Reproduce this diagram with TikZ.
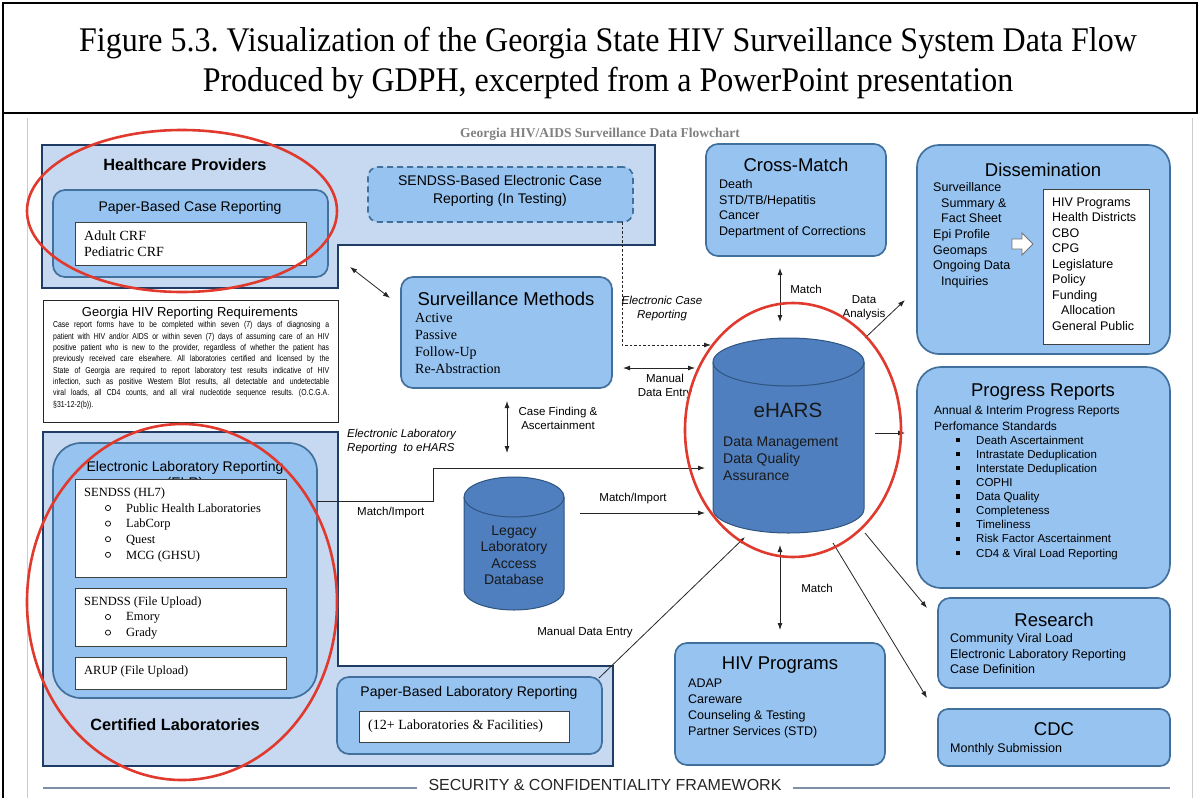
\documentclass[tikz,border=0pt]{standalone}
\usepackage{fontspec}
\setmainfont{Liberation Serif}
\setsansfont{Liberation Sans}
\newfontfamily\narrowsans[FakeStretch=0.8]{Liberation Sans}
\usetikzlibrary{arrows.meta}
\frenchspacing

\newcommand\fs[2]{\fontsize{#1}{#2}\selectfont}
\newcommand\jline[1]{\hbox to 276pt{#1}}

\definecolor{frameblue}{HTML}{C6D9F1}
\definecolor{navy}{HTML}{1F3D64}
\definecolor{boxblue}{HTML}{96C3F0}
\definecolor{boxedge}{HTML}{41709C}
\definecolor{cylblue}{HTML}{4F7FBF}
\definecolor{cyledge}{HTML}{2F5480}
\definecolor{markred}{HTML}{E03A2E}
\definecolor{rulegray}{HTML}{7F8FA6}

\begin{document}
\begin{tikzpicture}[x=1pt,y=-1pt,
  lframe/.style={fill=frameblue, draw=navy, line width=2.6pt, line join=miter},
  cbox/.style={fill=boxblue, draw=boxedge, line width=1.7pt, rounded corners=12pt},
  wbox/.style={fill=white, draw=black!75, line width=0.8pt},
  txt/.style={inner sep=0pt, align=left, anchor=north west, text=black},
  ttl/.style={inner sep=0pt, anchor=center, font=\sffamily\fs{18.5}{22}},
  lbl/.style={inner sep=0pt, align=center, font=\sffamily\fs{11.5}{14}},
  ilbl/.style={inner sep=0pt, align=center, font=\sffamily\itshape\fs{11.5}{14}},
  conn/.style={draw=black!85, line width=0.8pt, -{Latex[length=7pt,width=5pt]}},
  dconn/.style={draw=black!85, line width=0.8pt, {Latex[length=7pt,width=5pt]}-{Latex[length=7pt,width=5pt]}},
  redring/.style={draw=markred, line width=2.6pt},
  cylfill/.style={fill=cylblue, draw=cyledge, line width=1pt},
]
\useasboundingbox (0,0) rectangle (1201,798);

% caption frame
\draw[line width=2pt] (3,3) rectangle (1197,113);
\draw[line width=2pt] (3,113) -- (3,798);
\draw[black!20, line width=0.8pt] (27,118) -- (27,798);
\draw[black!20, line width=0.8pt] (1192,118) -- (1192,798);
\node[align=center, inner sep=0pt, font=\rmfamily\fs{32}{37}, yscale=1.08] (caption) at (608,63)
  {Figure 5.3. Visualization of the Georgia State HIV Surveillance System Data Flow\\
   Produced by GDPH, excerpted from a PowerPoint presentation};

\node[inner sep=0pt, font=\rmfamily\bfseries\fs{13.5}{15}, text=black!50] (slidetitle) at (600,134)
  {Georgia HIV/AIDS Surveillance Data Flowchart};

% ---------- Healthcare providers ----------
\draw[lframe] (42,145) -- (655,145) -- (655,245) -- (338,245) -- (338,288) -- (42,288) -- cycle;
\node[inner sep=0pt, font=\sffamily\bfseries\fs{16.3}{19}] (hptitle) at (185,165) {Healthcare Providers};

\node[cbox, minimum width=275pt, minimum height=87pt] (pbcr) at (190.5,233.5) {};
\node[inner sep=0pt, font=\sffamily\fs{14}{17}] (pbcrtitle) at (190,208) {Paper-Based Case Reporting};
\node[wbox, minimum width=231pt, minimum height=43pt] (crf) at (190.5,243.5) {};
\node[txt, font=\rmfamily\fs{14}{16}] (crftext) at (84,231) {Adult CRF\\Pediatric CRF};

\node[cbox, dashed, dash pattern=on 6pt off 4pt, rounded corners=10pt, minimum width=265pt, minimum height=55pt] (sendss) at (500.5,194.5) {};
\node[inner sep=0pt, align=center, font=\sffamily\fs{14}{17.5}] (sendsstext) at (500,191)
  {SENDSS-Based Electronic Case\\Reporting (In Testing)};

% ---------- Reporting requirements ----------
\node[wbox, draw=black!85, minimum width=295pt, minimum height=122pt] (req) at (190.5,361) {};
\node[inner sep=0pt, font=\sffamily\fs{13}{15}] (reqtitle) at (190,313) {Georgia HIV Reporting Requirements};
\node[txt, font=\narrowsans\fs{8.6}{11.3}] (reqbody) at (53,321.5)
  {\jline{Case report forms have to be completed within seven (7) days of diagnosing a}\\
   \jline{patient with HIV and/or AIDS or within seven (7) days of assuming care of an HIV}\\
   \jline{positive patient who is new to the provider, regardless of whether the patient has}\\
   \jline{previously received care elsewhere. All laboratories certified and licensed by the}\\
   \jline{State of Georgia are required to report laboratory test results indicative of HIV}\\
   \jline{infection, such as positive Western Blot results, all detectable and undetectable}\\
   \jline{viral loads, all CD4 counts, and all viral nucleotide sequence results. (O.C.G.A.}\\
   §31-12-2(b)).};

% ---------- Surveillance methods ----------
\node[cbox, minimum width=211pt, minimum height=111pt] (sm) at (506.5,332.5) {};
\node[ttl] (smtitle) at (506,299) {Surveillance Methods};
\node[txt, font=\rmfamily\fs{14}{17}] (smtext) at (415,313) {Active\\Passive\\Follow-Up\\Re-Abstraction};

% ---------- Cross-match ----------
\node[cbox, minimum width=180pt, minimum height=112pt] (cm) at (796,200) {};
\node[ttl] (cmtitle) at (796,165) {Cross-Match};
\node[txt, font=\sffamily\fs{12.5}{15.6}] (cmtext) at (719,179.5)
  {Death\\STD/TB/Hepatitis\\Cancer\\Department of Corrections};

% ---------- Dissemination ----------
\node[cbox, rounded corners=22pt, minimum width=253pt, minimum height=209pt] (dis) at (1043.5,249.5) {};
\node[ttl] (distitle) at (1043,170) {Dissemination};
\node[txt, font=\sffamily\fs{12.5}{15.6}] (distext) at (933,182.5)
  {Surveillance\\\hspace*{8pt}Summary \&\\\hspace*{8pt}Fact Sheet\\Epi Profile\\Geomaps\\Ongoing Data\\\hspace*{8pt}Inquiries};
\node[wbox, minimum width=106pt, minimum height=155pt] (aud) at (1096,266.5) {};
\node[txt, font=\sffamily\fs{12.5}{15.5}] (audtext) at (1052,197.5)
  {HIV Programs\\Health Districts\\CBO\\CPG\\Legislature\\Policy\\Funding\\\hspace*{9pt}Allocation\\General Public};
\draw[fill=white, draw=black!55, line width=0.8pt]
  (1012,239) -- (1022,239) -- (1022,233) -- (1033,244) -- (1022,255) -- (1022,249) -- (1012,249) -- cycle;

% ---------- Progress reports ----------
\node[cbox, rounded corners=24pt, minimum width=253pt, minimum height=221pt] (pr) at (1043.5,477.5) {};
\node[ttl] (prtitle) at (1043,392) {Progress Reports};
\node[txt, font=\sffamily\fs{12}{16}] (prtext) at (934,405.5)
  {Annual \& Interim Progress Reports\\Perfomance Standards};
\node[txt, font=\sffamily\fs{11.5}{14.1}] (prlist) at (976,435.7)
  {Death Ascertainment\\Intrastate Deduplication\\Interstate Deduplication\\COPHI\\Data Quality\\Completeness\\Timeliness\\Risk Factor Ascertainment\\CD4 \& Viral Load Reporting};
\foreach \i in {0,...,8}
  \fill ({958-2.2},{440+14.1*\i-2.2}) rectangle ++(4.4,4.4);

% ---------- Research and CDC ----------
\node[cbox, minimum width=232pt, minimum height=90pt] (res) at (1054,643) {};
\node[ttl] (restitle) at (1054,620) {Research};
\node[txt, font=\sffamily\fs{12.5}{15.6}] (restext) at (950,633.5)
  {Community Viral Load\\Electronic Laboratory Reporting\\Case Definition};

\node[cbox, rounded corners=10pt, minimum width=232pt, minimum height=57pt] (cdc) at (1054,737.5) {};
\node[ttl] (cdctitle) at (1054,729) {CDC};
\node[txt, font=\sffamily\fs{12.5}{15}] (cdctext) at (950,743.5) {Monthly Submission};

% ---------- HIV programs ----------
\node[cbox, minimum width=210pt, minimum height=122pt] (hivp) at (780,704) {};
\node[ttl] (hivptitle) at (780,665) {HIV Programs};
\node[txt, font=\sffamily\fs{12.5}{16}] (hivptext) at (688,678.5)
  {ADAP\\Careware\\Counseling \& Testing\\Partner Services (STD)};

% ---------- Certified laboratories ----------
\draw[lframe] (43,432) -- (338,432) -- (338,666) -- (613,666) -- (613,766) -- (43,766) -- cycle;
\node[cbox, rounded corners=28pt, minimum width=264pt, minimum height=255pt] (elr) at (185,570.5) {};
\node[inner sep=0pt, align=center, anchor=north, font=\sffamily\fs{14}{16}] (elrtitle) at (185,461)
  {Electronic Laboratory Reporting\\(ELR)};
\node[wbox, minimum width=211pt, minimum height=98pt] (hl7) at (180.5,528) {};
\node[wbox, minimum width=211pt, minimum height=58pt] (upload) at (180.5,617) {};
\node[wbox, minimum width=211pt, minimum height=32pt] (arup) at (180.5,673) {};
\node[txt, font=\rmfamily\fs{12.5}{15.6}] (hl7head) at (84,487.4) {SENDSS (HL7)};
\node[txt, font=\rmfamily\fs{12.5}{15.6}] (hl7list) at (126,503.4)
  {Public Health Laboratories\\LabCorp\\Quest\\MCG (GHSU)};
\foreach \i in {0,...,3}
  \draw[line width=0.7pt] (108,{508+15.6*\i}) circle[radius=2.6pt];
\node[txt, font=\rmfamily\fs{12.5}{15.6}] (uploadhead) at (84,596.4) {SENDSS (File Upload)};
\node[txt, font=\rmfamily\fs{12.5}{15.6}] (uploadlist) at (126,612.4) {Emory\\Grady};
\foreach \i in {0,1}
  \draw[line width=0.7pt] (108,{617+15.6*\i}) circle[radius=2.6pt];
\node[txt, font=\rmfamily\fs{12.5}{15.6}] (aruptext) at (84,665.4) {ARUP (File Upload)};
\node[inner sep=0pt, font=\sffamily\bfseries\fs{16.3}{19}] (cltitle) at (175,725) {Certified Laboratories};

\node[cbox, minimum width=265pt, minimum height=77pt] (pblr) at (469.5,715.5) {};
\node[inner sep=0pt, font=\sffamily\fs{14}{17}] (pblrtitle) at (469,693) {Paper-Based Laboratory Reporting};
\node[wbox, minimum width=210pt, minimum height=31pt] (labs) at (464,726.5) {};
\node[txt, font=\rmfamily\fs{14}{16}] (labstext) at (368,720) {(12+ Laboratories \& Facilities)};

% ---------- Databases ----------
\path[cylfill] (464,497) -- (464,590) arc[start angle=180, end angle=360, x radius=50pt, y radius=20pt]
  -- (564,497) arc[start angle=0, end angle=180, x radius=50pt, y radius=20pt] -- cycle;
\draw[cyledge, line width=1pt] (464,497) arc[start angle=180, end angle=360, x radius=50pt, y radius=20pt];
\node[inner sep=0pt, align=center, font=\sffamily\fs{14}{16.5}, text=black!90] (legacy) at (514,555)
  {Legacy\\Laboratory\\Access\\Database};

\path[cylfill] (713,362) -- (713,509) arc[start angle=180, end angle=360, x radius=75.5pt, y radius=24pt]
  -- (864,362) arc[start angle=0, end angle=180, x radius=75.5pt, y radius=24pt] -- cycle;
\draw[cyledge, line width=1pt] (713,362) arc[start angle=180, end angle=360, x radius=75.5pt, y radius=24pt];
\node[inner sep=0pt, font=\sffamily\fs{20.6}{24}, text=black!90] (ehars) at (788,410) {eHARS};
\node[txt, font=\sffamily\fs{14}{17}, text=black!90] (eharstext) at (723,437)
  {Data Management\\Data Quality\\Assurance};

% ---------- Connector end points ----------
\coordinate (hpA) at (350,267);   \coordinate (smA) at (390,298);
\coordinate (secA) at (622,222);  \coordinate (secB) at (622,345);  \coordinate (ehA) at (711,345);
\coordinate (smB) at (623,368);   \coordinate (ehB) at (695,368);
\coordinate (smC) at (507,401);   \coordinate (lgC) at (507,453);
\coordinate (elrA) at (317,501);  \coordinate (elrB) at (433,501); \coordinate (elrC) at (433,468);
\coordinate (ehC) at (705,468);
\coordinate (lgA) at (580,513);   \coordinate (ehD) at (705,513);
\coordinate (pblrA) at (599,678); \coordinate (ehE) at (745,537);
\coordinate (cmA) at (780,268);   \coordinate (ehF) at (780,322);
\coordinate (ehG) at (865,338);   \coordinate (disA) at (905,300);
\coordinate (ehH) at (875,433);   \coordinate (prA) at (905,433);
\coordinate (ehI) at (865,533);   \coordinate (resA) at (927,608);
\coordinate (ehJ) at (833,543);   \coordinate (cdcA) at (927,698);
\coordinate (ehK) at (780,545);   \coordinate (hivA) at (780,630);

% ---------- Connectors ----------
\draw[dconn] (hpA) -- (smA);
\draw[conn, dashed, dash pattern=on 2.5pt off 2pt] (secA) -- (secB) -- (ehA);
\draw[dconn] (smB) -- (ehB);
\draw[dconn] (smC) -- (lgC);
\draw[conn] (elrA) -- (elrB) -- (elrC) -- (ehC);
\draw[conn] (lgA) -- (ehD);
\draw[conn] (pblrA) -- (ehE);
\draw[dconn] (cmA) -- (ehF);
\draw[conn] (ehG) -- (disA);
\draw[conn] (ehH) -- (prA);
\draw[conn] (ehI) -- (resA);
\draw[conn] (ehJ) -- (cdcA);
\draw[dconn] (ehK) -- (hivA);

% ---------- Connector labels ----------
\node[ilbl] (ecrlbl) at (662,309) {Electronic Case\\Reporting};
\node[lbl] (mdelbl) at (665,387) {Manual\\Data Entry};
\node[lbl] (cflbl) at (558,418) {Case Finding \&\\Ascertainment};
\node[ilbl, align=left, anchor=west] (elrlbl) at (347,442) {Electronic Laboratory\\Reporting\ \ to eHARS};
\node[lbl, anchor=west] (milbl1) at (357,513) {Match/Import};
\node[lbl] (milbl2) at (633,499) {Match/Import};
\node[lbl] (mdelbl2) at (585,633) {Manual Data Entry};
\node[lbl] (matchlbl1) at (806,289) {Match};
\node[lbl] (dalbl) at (864,307.5) {Data\\Analysis};
\node[lbl] (matchlbl2) at (817,588) {Match};

% ---------- Framework rule ----------
\node[inner sep=0pt, font=\sffamily\fs{16}{18}, text=black!85] (framework) at (605,785) {SECURITY \& CONFIDENTIALITY FRAMEWORK};
\draw[rulegray, line width=1.2pt] (43,788) -- (417,788);
\draw[rulegray, line width=1.2pt] (793,788) -- (1170,788);

% ---------- Highlight rings ----------
\draw[redring] (182,211) ellipse [x radius=155pt, y radius=81pt];
\draw[redring] (182,602) ellipse [x radius=155pt, y radius=178pt];
\draw[redring] (793,430) ellipse [x radius=108pt, y radius=127pt];
\end{tikzpicture}
\end{document}
